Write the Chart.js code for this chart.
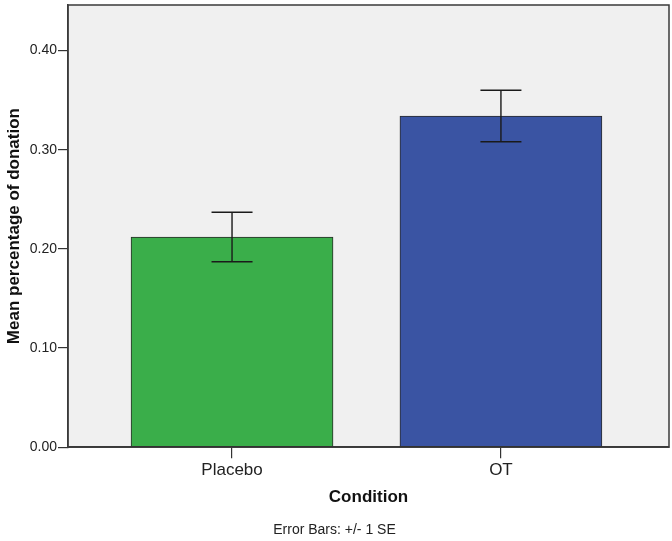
<!DOCTYPE html>
<html>
<head>
<meta charset="utf-8">
<script src="https://cdn.jsdelivr.net/npm/chart.js@4"></script>
<style>
  body { margin: 0; background: #fff; }
</style>
</head>
<body>
<canvas id="chart" width="672" height="541"></canvas>
<script>
// Mean percentage of donation by condition, +/- 1 SE
const conditions = ["Placebo", "OT"];
const positions = [1, 2];
const means = [0.212, 0.334];
const se = [0.025, 0.026];
const barColors = ["#3aae4a", "#3a54a3"];

const FONT = "Arial, 'Liberation Sans', Helvetica, sans-serif";

// grey plot background + frame round the chart area
const plotFrame = {
  id: "plotFrame",
  beforeDraw(chart) {
    const { ctx, chartArea: a } = chart;
    ctx.save();
    ctx.fillStyle = "#f0f0f0";
    ctx.fillRect(a.left, a.top, a.right - a.left, a.bottom - a.top);
    ctx.restore();
  },
  afterDraw(chart) {
    const { ctx, chartArea: a } = chart;
    ctx.save();
    ctx.strokeStyle = "#3a3a3a";
    ctx.lineWidth = 1.5;
    ctx.strokeRect(a.left, a.top, a.right - a.left, a.bottom - a.top);
    ctx.restore();
  }
};

// error bars drawn from the scales
const errorBars = {
  id: "errorBars",
  afterDatasetsDraw(chart) {
    const { ctx, scales } = chart;
    ctx.save();
    ctx.strokeStyle = "#1a1a1a";
    ctx.lineWidth = 1.4;
    means.forEach((m, i) => {
      const x = scales.x.getPixelForValue(positions[i]);
      const yHi = scales.y.getPixelForValue(m + se[i]);
      const yLo = scales.y.getPixelForValue(m - se[i]);
      const half = 20.5;
      ctx.beginPath();
      ctx.moveTo(x, yHi); ctx.lineTo(x, yLo);
      ctx.moveTo(x - half, yHi); ctx.lineTo(x + half, yHi);
      ctx.moveTo(x - half, yLo); ctx.lineTo(x + half, yLo);
      ctx.stroke();
    });
    ctx.restore();
  }
};

new Chart(document.getElementById("chart"), {
  type: "bar",
  data: {
    datasets: [{
      data: positions.map((p, i) => ({ x: p, y: means[i] })),
      backgroundColor: barColors,
      borderColor: "#2a2a2a",
      borderWidth: 1,
      borderSkipped: false,
      barThickness: 202
    }]
  },
  options: {
    responsive: false,
    animation: false,
    layout: { padding: { top: 5, right: 3, left: 0, bottom: 0 } },
    plugins: {
      legend: { display: false },
      tooltip: { enabled: false },
      title: {
        display: true,
        position: "bottom",
        text: "Error Bars: +/- 1 SE",
        color: "#222",
        font: { family: FONT, size: 14, weight: "normal" },
        padding: { top: 4, bottom: 2 }
      }
    },
    scales: {
      x: {
        type: "linear",
        offset: false,
        min: 0.39,
        max: 2.625,
        afterBuildTicks: (scale) => { scale.ticks = positions.map(v => ({ value: v })); },
        afterFit: (scale) => { scale.height = 71; },
        ticks: {
          callback: (v) => conditions[positions.indexOf(v)],
          color: "#222",
          font: { family: FONT, size: 17 },
          padding: 2
        },
        grid: { offset: false, drawOnChartArea: false, drawTicks: true, tickLength: 11, color: "#333", lineWidth: 1.2 },
        border: { display: true, color: "#3a3a3a", width: 1.5 },
        title: {
          display: true,
          text: "Condition",
          color: "#111",
          font: { family: FONT, size: 17, weight: "bold" },
          padding: { top: 4, bottom: 11 }
        }
      },
      y: {
        min: 0,
        max: 0.446,
        afterFit: (scale) => { scale.width = 68; scale.paddingTop = 0; scale.paddingBottom = 0; },
        ticks: {
          stepSize: 0.1,
          includeBounds: false,
          callback: (v) => v.toFixed(2),
          color: "#222",
          font: { family: FONT, size: 14 },
          padding: 1
        },
        grid: { drawOnChartArea: false, drawTicks: true, tickLength: 10, color: "#333", lineWidth: 1.2 },
        border: { display: true, color: "#3a3a3a", width: 1.5 },
        title: {
          display: true,
          text: "Mean percentage of donation",
          color: "#111",
          font: { family: FONT, size: 17, weight: "bold" },
          padding: { top: 4, bottom: 2 }
        }
      }
    }
  },
  plugins: [plotFrame, errorBars]
});
</script>
</body>
</html>
